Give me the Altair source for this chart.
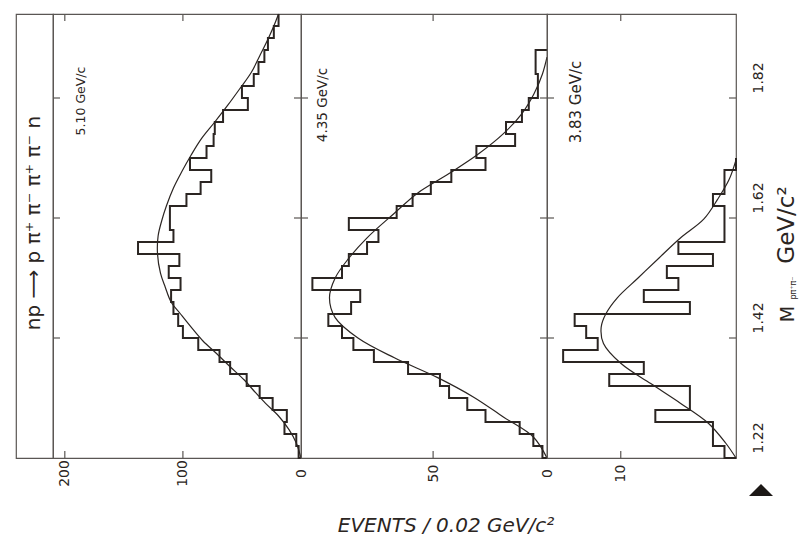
import altair as alt
import pandas as pd

INK = "#2b2522"
FRAME = "#5a5653"
FONT = "DejaVu Sans"

# ---- data ----
bin_start = 1.22      # GeV/c^2, lower edge of first bin
bin_width = 0.02      # GeV/c^2
mass_lo, mass_hi = 1.22, 1.96

# events per 0.02 GeV/c^2 bin, from lowest mass upwards
counts_510 = [2, 4, 14, 12, 24, 35, 46, 60, 69, 87, 100, 104, 108, 110, 102, 112, 103,
              138, 108, 111, 111, 97, 85, 76, 94, 80, 74, 73, 66, 45, 50, 40, 36, 31,
              28, 23, 19]
counts_435 = [2, 6, 12, 27, 35, 43, 47, 61, 76, 85, 90, 96, 86, 82, 103, 90, 87, 79, 74,
              87, 66, 59, 51, 42, 27, 31, 14, 18, 11, 8, 4, 4, 5, 5]
counts_383 = [1, 2, 2, 7, 4, 4, 11, 8, 15, 12, 13, 14, 4, 8, 5, 6, 2, 5, 1, 1, 1, 2, 1, 1, 0]

# fitted curves (mass, events)
fit_510_mass = [1.22, 1.245, 1.267, 1.29, 1.311, 1.33, 1.35, 1.372, 1.395, 1.415, 1.438,
                1.46, 1.48, 1.505, 1.528, 1.56, 1.59, 1.615, 1.64, 1.67, 1.697, 1.725,
                1.753, 1.78, 1.808, 1.835, 1.863, 1.89, 1.918, 1.94, 1.96]
fit_510_events = [0, 4, 10, 19, 30, 39, 48, 60, 72, 83, 93, 102, 110, 115, 119, 121.5,
                  121, 118, 114, 108, 101, 93, 84, 73, 62, 52, 42, 35, 28, 23, 19]
fit_435_mass = [1.22, 1.255, 1.288, 1.321, 1.354, 1.387, 1.42, 1.454, 1.487, 1.52, 1.553,
                1.587, 1.628, 1.661, 1.694, 1.727, 1.761, 1.794, 1.827, 1.86, 1.888]
fit_435_events = [0, 6, 19, 32, 48, 67, 83, 93, 95.5, 93, 87, 79, 67, 57, 43, 30, 19, 11,
                  5.7, 2, 0]
fit_383_mass = [1.22, 1.245, 1.278, 1.311, 1.344, 1.378, 1.411, 1.438, 1.46, 1.487, 1.52,
                1.553, 1.587, 1.618, 1.651, 1.684, 1.717]
fit_383_events = [0, 0.9, 2.4, 4.8, 7.4, 10, 11.5, 11.7, 11.3, 10.3, 8.5, 6.7, 4.8, 2.8,
                  1.6, 0.6, 0]

mass_ticks = [1.22, 1.42, 1.62, 1.82]
labels_panels = ["5.10 GeV/c", "4.35 GeV/c", "3.83 GeV/c"]
reaction = "np ⟶ p π⁺ π⁻ π⁺ π⁻ n"

H = 444


def step_frame(counts, close_top):
    edges = [round(bin_start + bin_width * k, 4) for k in range(len(counts) + 1)]
    rows = [{"i": 0, "m": edges[0], "e": 0}]
    for k, c in enumerate(counts):
        rows.append({"i": k + 1, "m": edges[k], "e": c})
    rows.append({"i": len(counts) + 1, "m": edges[-1],
                 "e": 0 if close_top else counts[-1]})
    return pd.DataFrame(rows)


def panel(counts, close_top, fit_m, fit_e, dom_max, width, ev_labels, ev_ticks,
          label, lx, ly, lsize, right_axis=False, extras=None):
    xs = alt.Scale(domain=[0, dom_max], reverse=True, nice=False, zero=False)
    ys = alt.Scale(domain=[mass_lo, mass_hi], nice=False, zero=False)
    xaxis = alt.Axis(values=ev_labels, format="d", labelAngle=270, labelAlign="center",
                     labelBaseline="middle", labelPadding=15, ticks=False, tickSize=0,
                     domain=False, grid=False, labelFlush=False, labelOverlap=False,
                     title=None)
    if right_axis:
        yaxis = alt.Axis(orient="right", values=mass_ticks, format=".2f", labelAngle=270,
                         labelAlign="left", labelBaseline="middle", labelPadding=22,
                         labelOffset=-5, ticks=False, tickSize=0, domain=False,
                         grid=False, labelFlush=False, labelOverlap=False, title=None)
    else:
        yaxis = None
    X = lambda f: alt.X(f, scale=xs, axis=xaxis)
    Y = lambda f: alt.Y(f, scale=ys, axis=yaxis)

    hist = alt.Chart(step_frame(counts, close_top)).mark_line(
        interpolate="step-before", color=INK, strokeWidth=2
    ).encode(x=X("e:Q"), y=Y("m:Q"), order="i:Q")

    fit_df = pd.DataFrame({"m": fit_m, "e": fit_e, "i": list(range(len(fit_m)))})
    fit = alt.Chart(fit_df).mark_line(
        interpolate="catmull-rom", color=INK, strokeWidth=1.2
    ).encode(x=X("e:Q"), y=Y("m:Q"), order="i:Q")

    ev_df = pd.DataFrame({"e": ev_ticks})
    tb = alt.Chart(ev_df).mark_rule(color=FRAME, strokeWidth=1.2).encode(
        x=X("e:Q"), y=alt.value(H - 7), y2=alt.value(H))
    tt = alt.Chart(ev_df).mark_rule(color=FRAME, strokeWidth=1.2).encode(
        x=X("e:Q"), y=alt.value(0), y2=alt.value(7))
    m_df = pd.DataFrame({"m": mass_ticks[1:]})
    tl = alt.Chart(m_df).mark_rule(color=FRAME, strokeWidth=1.2).encode(
        y=Y("m:Q"), x=alt.value(0), x2=alt.value(7))
    tr = alt.Chart(m_df).mark_rule(color=FRAME, strokeWidth=1.2).encode(
        y=Y("m:Q"), x=alt.value(width - 7), x2=alt.value(width))

    lab = alt.Chart(pd.DataFrame({"t": [label]})).mark_text(
        angle=270, fontSize=lsize, font=FONT, color=INK
    ).encode(text="t:N", x=alt.value(lx), y=alt.value(ly))

    layers = [hist, fit, tb, tt, tl, tr, lab] + (extras or [])
    return alt.layer(*layers).properties(width=width, height=H)


def note(text, x, y, size, angle=270, style="normal"):
    return alt.Chart(pd.DataFrame({"t": [text]})).mark_text(
        angle=angle, fontSize=size, font=FONT, color=INK, fontStyle=style
    ).encode(text="t:N", x=alt.value(x), y=alt.value(y))


tri = alt.Chart(pd.DataFrame({"t": [1]})).mark_point(
    shape="M-1,0.5L0,-0.5L1,0.5Z", filled=True, color="#1c1816", size=576, opacity=1
).encode(x=alt.value(214), y=alt.value(476))

label_panel = alt.Chart(pd.DataFrame({"t": [reaction]})).mark_text(
    angle=270, fontSize=20, font=FONT, color=INK
).encode(text="t:N", x=alt.value(18), y=alt.value(209)).properties(width=37, height=H)

p1 = panel(counts_510, False, fit_510_mass, fit_510_events, 210, 248,
           [0, 100, 200], [100, 200], labels_panels[0], 28, 87, 12.5)
p2 = panel(counts_435, True, fit_435_mass, fit_435_events, 108, 246,
           [0, 50], [50], labels_panels[1], 22, 91, 13.5,
           extras=[note("EVENTS  /  0.02  GeV/c²", 145, 512, 20, angle=0, style="italic")])
p3 = panel(counts_383, True, fit_383_mass, fit_383_events, 16.4, 189,
           [10], [10], labels_panels[2], 29, 88, 15, right_axis=True,
           extras=[note("M", 241, 300, 19), note("pπ⁺π⁻", 247, 274, 8),
                   note("GeV/c²", 240, 211, 23), tri])

chart = alt.hconcat(label_panel, p1, p2, p3, spacing=0, bounds="flush").properties(
    padding={"left": 15, "top": 9, "right": 0, "bottom": 0},
    background="white",
).configure_view(stroke=FRAME, strokeWidth=1.2).configure_axis(
    labelFont=FONT, labelFontSize=14, labelColor=INK
)

chart.save("out.html", embed_options={"renderer": "svg", "actions": False})
